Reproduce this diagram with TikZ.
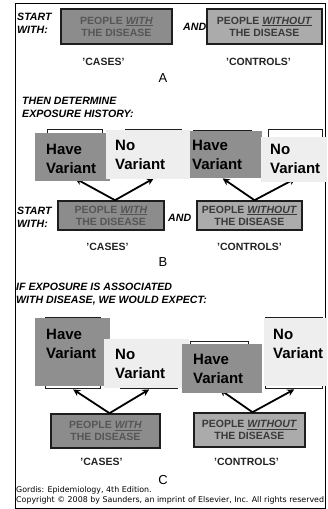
\documentclass[tikz,border=0pt]{standalone}
\usepackage{fontspec}
\setmainfont{Liberation Sans}
\newfontfamily\footfont{DejaVu Sans}
\usepackage{xcolor}
\usetikzlibrary{arrows.meta}

\definecolor{casefill}{HTML}{8C8C8C}
\definecolor{casetext}{HTML}{565656}
\definecolor{ctrlfill}{HTML}{ABABAB}
\definecolor{ctrltext}{HTML}{3A3A3A}
\definecolor{havefill}{HTML}{8F8F8F}
\definecolor{nofill}{HTML}{EEEEEE}
\definecolor{boxline}{HTML}{1E1E1E}
\definecolor{tagtext}{HTML}{222222}

\tikzset{
  people/.style={draw=boxline, line width=1.6pt, align=center, inner sep=0pt,
    font=\fontsize{10.5}{12}\selectfont\bfseries},
  caseppl/.style={people, fill=casefill, text=casetext},
  ctrlppl/.style={people, fill=ctrlfill, text=ctrltext},
  hidden/.style={draw=boxline, line width=1.4pt, fill=white, anchor=north west, inner sep=0pt},
  haveov/.style={fill=havefill, anchor=north west, inner sep=0pt},
  noov/.style={fill=nofill, anchor=north west, inner sep=0pt},
  vtext/.style={anchor=west, align=left, inner sep=0pt, font=\fontsize{15}{19}\selectfont\bfseries},
  head/.style={anchor=west, align=left, inner sep=0pt, font=\fontsize{10.6}{12.8}\selectfont\bfseries\itshape},
  tag/.style={inner sep=0pt, font=\fontsize{10.5}{12}\selectfont\bfseries, text=tagtext},
  letter/.style={inner sep=0pt, font=\fontsize{13}{13}\selectfont},
  foot/.style={anchor=west, inner sep=0pt, font=\footfont\fontsize{7.9}{9}\selectfont},
  varrow/.style={line width=1.8pt, -{Stealth[length=7pt, width=7pt]}},
}

\begin{document}
\begin{tikzpicture}[x=1pt, y=-1pt]
        \useasboundingbox[fill=white] (0,0) rectangle (327,509);
        % Frame
        \draw[line width=1pt] (15,3) rectangle (325,508);

        % Panel A
        \node[head] (swa) at (17,23) {START\\WITH:};
        \node[caseppl, minimum width=111pt, minimum height=35pt] (ca) at (116.5,26.5) {PEOPLE \underline{\textit{WITH}}\\THE DISEASE};
        \node[head] (anda) at (183,27) {AND};
        \node[ctrlppl, minimum width=115pt, minimum height=35pt] (ka) at (264.5,26.5) {PEOPLE \underline{\textit{WITHOUT}}\\THE DISEASE};
        \node[tag] (casa) at (103.5,62) {'CASES'};
        \node[tag] (cona) at (258.5,62) {'CONTROLS'};
        \node[letter] (la) at (163,78) {A};

        % Panel B
        \node[head] (thb) at (22,107.5) {THEN DETERMINE\\EXPOSURE HISTORY:};
        \node[hidden, minimum width=55pt, minimum height=48pt] (hb1) at (47,129) {};
        \node[hidden, minimum width=56pt, minimum height=48pt] (hb2) at (125,129) {};
        \node[hidden, minimum width=58pt, minimum height=47pt] (hb3) at (193,130) {};
        \node[hidden, minimum width=54pt, minimum height=48pt] (hb4) at (268,129) {};
        \node[caseppl, minimum width=106pt, minimum height=29pt] (cb) at (111,215.5) {PEOPLE \underline{\textit{WITH}}\\THE DISEASE};
        \node[ctrlppl, minimum width=105pt, minimum height=29pt] (kb) at (249.5,215.5) {PEOPLE \underline{\textit{WITHOUT}}\\THE DISEASE};
        \draw[varrow] ([xshift=4pt]cb.north) -- (hb1.south);
        \draw[varrow] ([xshift=4pt]cb.north) -- (hb2.south);
        \draw[varrow] ([xshift=5pt]kb.north) -- (hb3.south);
        \draw[varrow] ([xshift=5pt]kb.north) -- (hb4.south);
        % variant boxes
        \node[haveov, minimum width=75pt, minimum height=48pt] (ob1) at (35,133) {};
        \node[noov, minimum width=84pt, minimum height=49pt] (ob2) at (106,130) {};
        \node[haveov, minimum width=72pt, minimum height=47pt] (ob3) at (190,131) {};
        \node[noov, minimum width=66pt, minimum height=45pt] (ob4) at (261,137) {};
        \node[vtext] (tb1) at (46,158.5) {Have\\Variant};
        \node[vtext] (tb2) at (115,154.5) {No\\Variant};
        \node[vtext] (tb3) at (192,154.5) {Have\\Variant};
        \node[vtext] (tb4) at (270,159) {No\\Variant};
        \node[head] (swb) at (17,217) {START\\WITH:};
        \node[head] (andb) at (168,218) {AND};
        \node[tag] (casb) at (107.5,247) {'CASES'};
        \node[tag] (conb) at (249.5,247) {'CONTROLS'};
        \node[letter] (lb) at (163,262) {B};

        % Panel C
        \node[head] (ifc) at (16,294) {IF EXPOSURE IS ASSOCIATED\\WITH DISEASE, WE WOULD EXPECT:};
        \node[hidden, minimum width=55pt, minimum height=71pt] (hc1) at (45,317) {};
        \node[hidden, minimum width=57pt, minimum height=48pt] (hc2) at (120,340) {};
        \node[hidden, minimum width=58pt, minimum height=47pt] (hc3) at (190,341) {};
        \node[hidden, minimum width=57pt, minimum height=71pt] (hc4) at (265,317) {};
        \node[caseppl, minimum width=109pt, minimum height=34pt] (cc) at (105.5,431) {PEOPLE \underline{\textit{WITH}}\\THE DISEASE};
        \node[ctrlppl, minimum width=111pt, minimum height=34pt] (kc) at (249.5,430) {PEOPLE \underline{\textit{WITHOUT}}\\THE DISEASE};
        \draw[varrow] ([xshift=4pt]cc.north) -- (hc1.south);
        \draw[varrow] ([xshift=4pt]cc.north) -- (hc2.south);
        \draw[varrow] ([xshift=3pt]kc.north) -- (hc3.south);
        \draw[varrow] ([xshift=3pt]kc.north) -- (hc4.south);
        % variant boxes
        \node[haveov, minimum width=75pt, minimum height=68pt] (oc1) at (35,318) {};
        \node[noov, minimum width=85pt, minimum height=49pt] (oc2) at (104,339) {};
        \node[haveov, minimum width=80pt, minimum height=49pt] (oc3) at (182,344) {};
        \node[noov, minimum width=63pt, minimum height=68pt] (oc4) at (264,318) {};
        \node[vtext] (tc1) at (46,343.5) {Have\\Variant};
        \node[vtext] (tc2) at (115,364) {No\\Variant};
        \node[vtext] (tc3) at (193,369) {Have\\Variant};
        \node[vtext] (tc4) at (273,343.5) {No\\Variant};
        \node[tag] (casc) at (101.5,462) {'CASES'};
        \node[tag] (conc) at (246.5,462) {'CONTROLS'};
        \node[letter] (lc) at (163,480) {C};

        % Source
        \node[foot] (src) at (16,490) {Gordis: Epidemiology, 4th Edition.};
        \node[foot] (cpy) at (16,500.5) {Copyright © 2008 by Saunders, an imprint of Elsevier, Inc. All rights reserved};
    \end{tikzpicture}
\end{document}
